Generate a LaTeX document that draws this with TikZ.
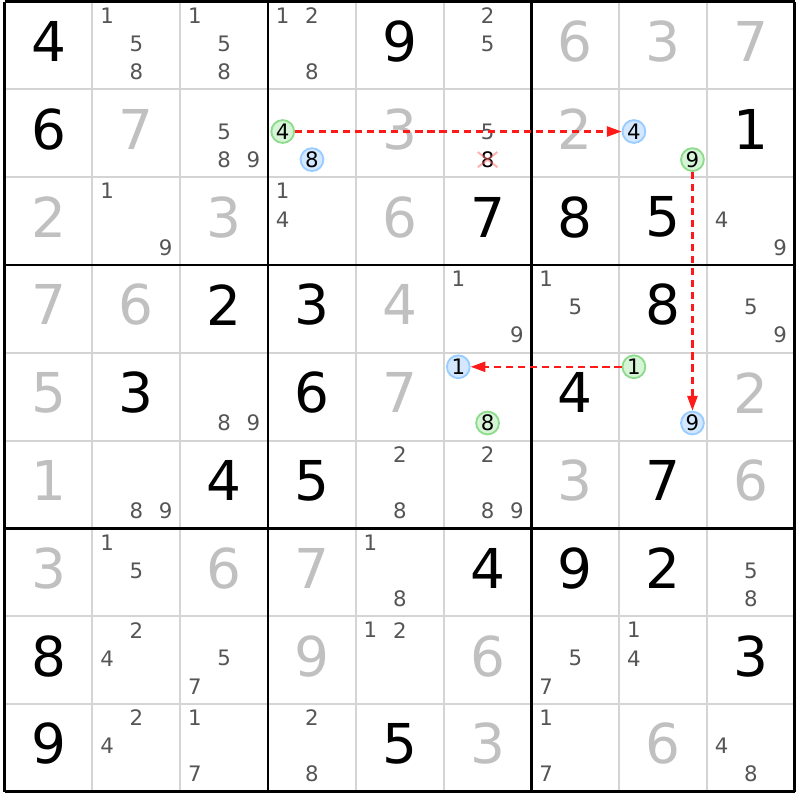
\documentclass[tikz,border=0pt]{standalone}
\usepackage{fontspec}
\setmainfont{DejaVu Sans}
\usetikzlibrary{arrows.meta,shapes.misc}
\definecolor{solvedgray}{HTML}{C0C0C0}
\definecolor{candgray}{HTML}{555555}
\definecolor{gridgray}{HTML}{D4D4D4}
\definecolor{ongreen}{HTML}{D6F5D6}
\definecolor{onedge}{HTML}{8EDB8E}
\definecolor{offblue}{HTML}{D3E8FF}
\definecolor{offedge}{HTML}{99CCFF}
\definecolor{linkred}{HTML}{FF1A1A}
\begin{document}
\begin{tikzpicture}[
  given/.style={inner sep=0pt,font=\fontsize{17.8}{20}\selectfont},
  solved/.style={given,text=solvedgray},
  cand/.style={inner sep=0pt,text=candgray,font=\fontsize{6.9}{8}\selectfont},
  oncand/.style={circle,draw=onedge,fill=ongreen,line width=0.6pt,minimum size=0.26cm,inner sep=0pt,font=\fontsize{6.9}{8}\selectfont},
  offcand/.style={oncand,draw=offedge,fill=offblue},
  link/.style={draw=linkred,line width=0.7pt,dash pattern=on 2.3pt off 1.6pt,-{Triangle[length=4.8pt,width=3.3pt]}},
  strikeout/.style={cross out,draw=red!60,draw opacity=0.5,line width=0.65pt,minimum width=0.2cm,minimum height=0.15cm,inner sep=0pt}]
\useasboundingbox (-0.0535,0.018) rectangle (9.058,-9.094);
\draw[gridgray,line width=0.65pt] (0,-9) grid (9,0);
\draw[line width=0.9pt] (0,-9) grid[step=3] (9,0);
\foreach \r/\c/\d in {1/1/4,1/5/9,2/1/6,2/9/1,3/6/7,3/7/8,3/8/5,4/3/2,4/4/3,4/8/8,
  5/2/3,5/4/6,5/7/4,6/3/4,6/4/5,6/8/7,7/6/4,7/7/9,7/8/2,8/1/8,8/9/3,9/1/9,9/5/5}
  \node[given] (g\r\c) at (\c-0.5,-\r+0.545) {\d};
\foreach \r/\c/\d in {1/7/6,1/8/3,1/9/7,2/2/7,2/5/3,2/7/2,3/1/2,3/3/3,3/5/6,4/1/7,4/2/6,4/5/4,
  5/1/5,5/5/7,5/9/2,6/1/1,6/7/3,6/9/6,7/1/3,7/3/6,7/4/7,8/4/9,8/6/6,9/6/3,9/8/6}
  \node[solved] (s\r\c) at (\c-0.5,-\r+0.545) {\d};
\foreach \r/\c/\d in {1/2/1,1/2/5,1/2/8,1/3/1,1/3/5,1/3/8,1/4/1,1/4/2,1/4/8,1/6/2,1/6/5,
  2/3/5,2/3/8,2/3/9,2/6/5,3/2/1,3/2/9,3/4/1,3/4/4,3/9/4,3/9/9,
  4/6/1,4/6/9,4/7/1,4/7/5,4/9/5,4/9/9,5/3/8,5/3/9,6/2/8,6/2/9,6/5/2,6/5/8,6/6/2,6/6/8,6/6/9,
  7/2/1,7/2/5,7/5/1,7/5/8,7/9/5,7/9/8,8/2/2,8/2/4,8/3/5,8/3/7,8/5/1,8/5/2,8/7/5,8/7/7,8/8/1,8/8/4,
  9/2/2,9/2/4,9/3/1,9/3/7,9/4/2,9/4/8,9/7/1,9/7/7,9/9/4,9/9/8}
  \node[cand] (r\r c\c n\d) at ({\c-1+(2*mod(\d-1,3)+1)/6},{-\r+1-0.16-0.32*floor((\d-1)/3)}) {\d};
\node[cand,text=black] (r2c6n8) at (5.5,-1.80) {8};
\node[strikeout] (r2c6x) at (r2c6n8) {};
\node[oncand] (r2c4n4) at ({3+1/6},-1.48) {4};
\node[offcand] (r2c4n8) at (3.5,-1.80) {8};
\node[offcand] (r2c8n4) at ({7+1/6},-1.48) {4};
\node[oncand] (r2c8n9) at ({7+5/6},-1.80) {9};
\node[offcand] (r5c6n1) at ({5+1/6},-4.16) {1};
\node[oncand] (r5c6n8) at (5.5,-4.80) {8};
\node[oncand] (r5c8n1) at ({7+1/6},-4.16) {1};
\node[offcand] (r5c8n9) at ({7+5/6},-4.80) {9};
\draw[link] (r2c4n4) -- (r2c8n4);
\draw[link] (r2c8n9) -- (r5c8n9);
\draw[link] (r5c8n1) -- (r5c6n1);
\end{tikzpicture}
\end{document}
